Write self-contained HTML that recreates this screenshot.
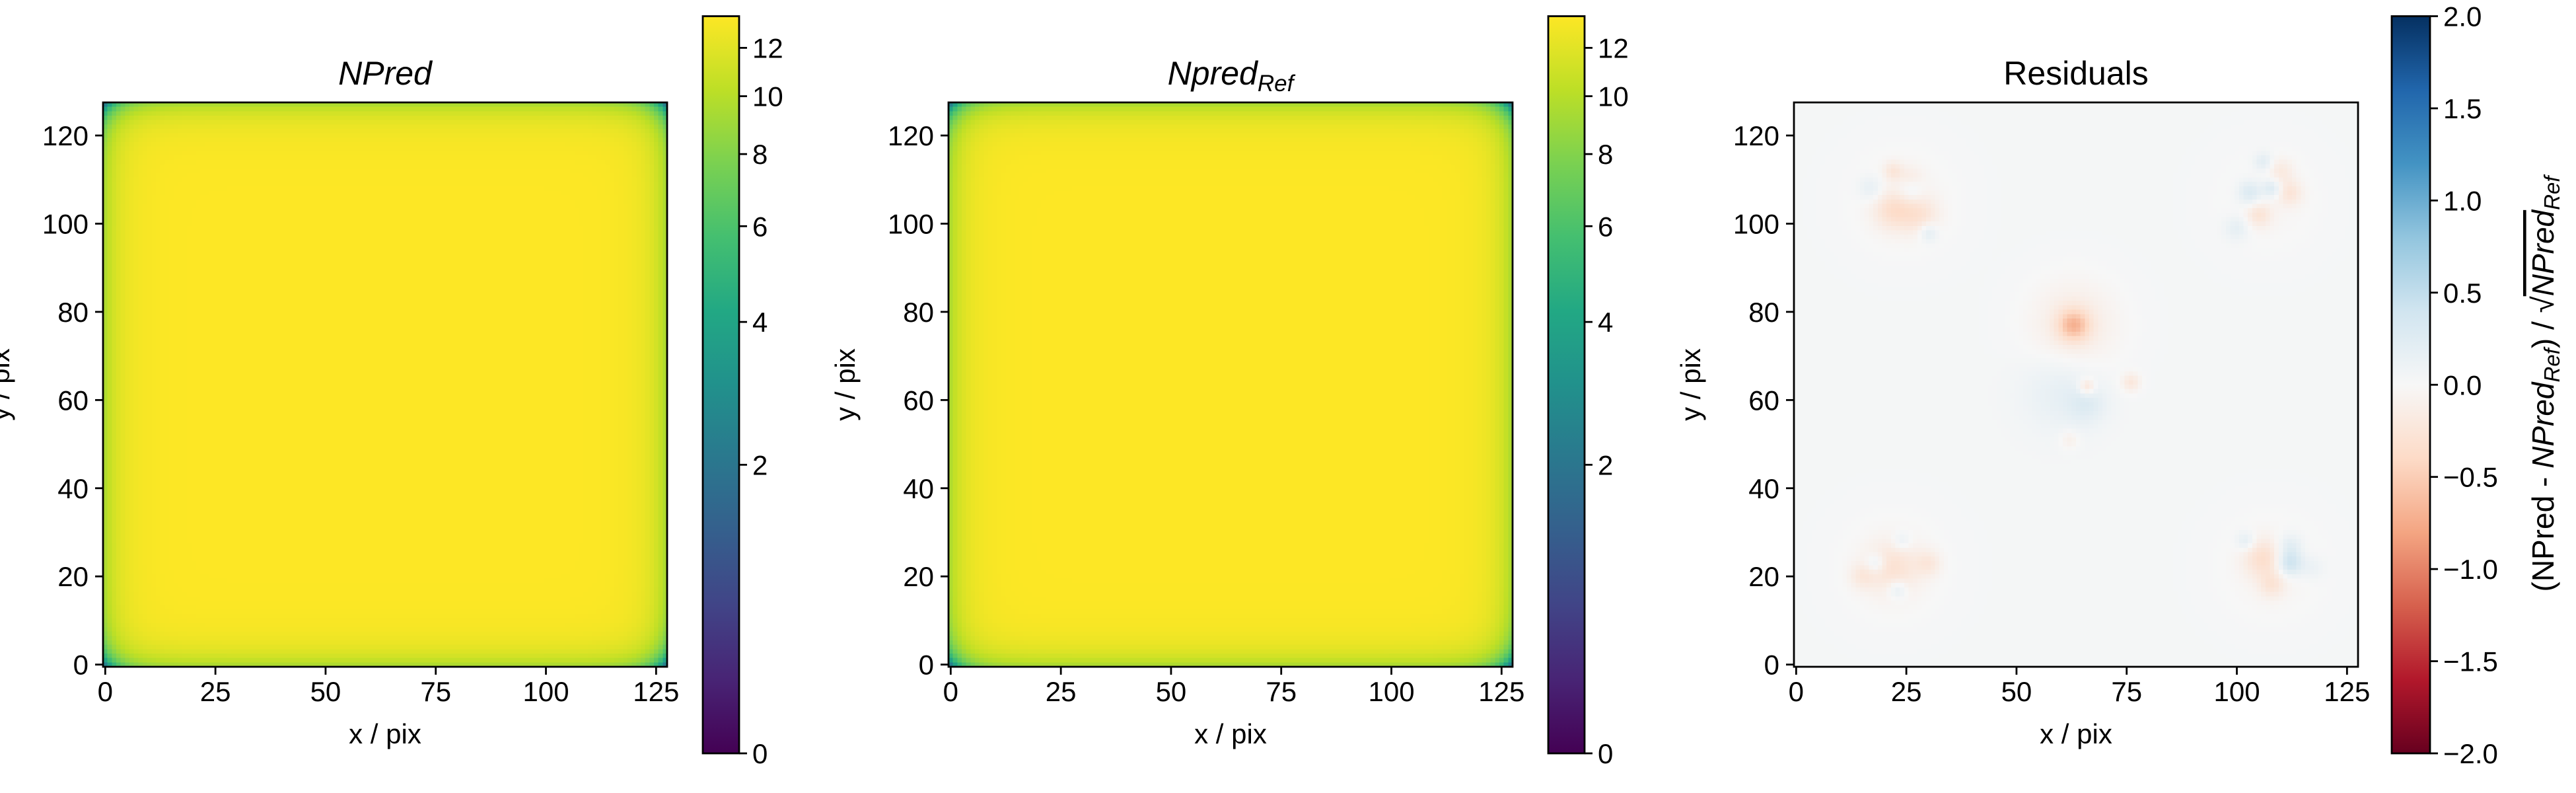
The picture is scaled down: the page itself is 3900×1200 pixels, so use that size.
<!DOCTYPE html>
<html><head><meta charset="utf-8">
<style>
html,body{margin:0;padding:0;background:#fff;}
#wrap{position:relative;width:3900px;height:1200px;overflow:hidden;font-family:"Liberation Sans","DejaVu Sans",sans-serif;}
canvas{position:absolute;image-rendering:pixelated;}
svg{position:absolute;left:0;top:0;}
</style></head>
<body>
<div id="wrap">
<canvas id="c1" width="128" height="128" style="left:156px;top:155px;width:854px;height:854px"></canvas>
<canvas id="c2" width="128" height="128" style="left:1436px;top:155px;width:854px;height:854px"></canvas>
<canvas id="c3" width="128" height="128" style="left:2716px;top:155px;width:854px;height:854px"></canvas>
<svg id="svg" width="3900" height="1200" xmlns="http://www.w3.org/2000/svg">
<defs>
<linearGradient id="viridis" x1="0" y1="1" x2="0" y2="0">
<stop offset="0" stop-color="#440154"/><stop offset="0.1" stop-color="#482475"/><stop offset="0.2" stop-color="#414487"/><stop offset="0.3" stop-color="#355f8d"/><stop offset="0.4" stop-color="#2a788e"/><stop offset="0.5" stop-color="#21918c"/><stop offset="0.6" stop-color="#22a884"/><stop offset="0.7" stop-color="#44bf70"/><stop offset="0.8" stop-color="#7ad151"/><stop offset="0.9" stop-color="#bddf26"/><stop offset="1" stop-color="#fde725"/>
</linearGradient>
<linearGradient id="rdbu" x1="0" y1="1" x2="0" y2="0">
<stop offset="0" stop-color="#67001f"/><stop offset="0.1" stop-color="#b2182b"/><stop offset="0.2" stop-color="#d6604d"/><stop offset="0.3" stop-color="#f4a582"/><stop offset="0.4" stop-color="#fddbc7"/><stop offset="0.5" stop-color="#f7f7f7"/><stop offset="0.6" stop-color="#d1e5f0"/><stop offset="0.7" stop-color="#92c5de"/><stop offset="0.8" stop-color="#4393c3"/><stop offset="0.9" stop-color="#2166ac"/><stop offset="1" stop-color="#053061"/>
</linearGradient>
</defs>
</svg>
</div>
<script>
// ---- data ----
const axisTicks = [0, 25, 50, 75, 100, 125];
const yTicks = [0, 20, 40, 60, 80, 100, 120];
const npredTicks = [0, 2, 4, 6, 8, 10, 12];
const npredMax = 13.5;
const npredPlateau = 13.5;
const resTicks = [-2.0, -1.5, -1.0, -0.5, 0.0, 0.5, 1.0, 1.5, 2.0];
const resTickLabels = ["\u22122.0","\u22121.5","\u22121.0","\u22120.5","0.0","0.5","1.0","1.5","2.0"];
// residual blobs: x, y, sigma, amplitude
const blobX = [63,63,60,66,66,76,62, 22,28,26,30,17,22,26,24, 103,108,105,112,106,100,110,107, 22,18,23,15,30,24,22, 106,112,102,108,112,117,108];
const blobY = [77,77,62,59,63,64,51, 103,102,108,98,108,112,110,105, 107,108,102,107,114,99,112,105, 22,23,17,20,23,28,22, 24,23,28,18,27,22,22];
const blobS = [2.5,7,6,3,1.3,1.5,1.5, 3,3,2,1.5,2,1.5,2,8, 2,1.5,2,2,1.5,2,2,8, 4,1.5,1.5,2,2,1.5,8, 3,2,1.5,2,2,2,8];
const blobA = [-0.55,-0.2,0.15,0.18,-0.35,-0.25,-0.15, -0.3,-0.25,0.22,0.25,0.18,-0.22,-0.18,-0.08, 0.3,0.3,-0.25,-0.25,0.22,0.18,-0.18,-0.06, -0.25,0.25,0.25,-0.18,-0.2,0.18,-0.08, -0.3,0.45,0.22,-0.22,0.22,0.12,-0.08];

// ---- helpers ----
const VIR=[[68,1,84],[72,36,117],[65,68,135],[53,95,141],[42,120,142],[33,145,140],[34,168,132],[68,191,112],[122,209,81],[189,223,38],[253,231,37]];
const RDBU=[[103,0,31],[178,24,43],[214,96,77],[244,165,130],[253,219,199],[247,247,247],[209,229,240],[146,197,222],[67,147,195],[33,102,172],[5,48,97]];
function cmap(t,tab){t=Math.max(0,Math.min(1,t));const f=t*10,i=Math.min(9,Math.floor(f)),r=f-i;return tab[i].map((c,k)=>Math.round(c+(tab[i+1][k]-c)*r));}
function npredNorm(v){return Math.log(1+v/1.2)/Math.log(1+npredMax/1.2);}
function npredVal(i,j){const dx=Math.min(i,127-i),dy=Math.min(j,127-j);
  return npredPlateau-3.8*Math.exp(-dx/3.8)-3.8*Math.exp(-dy/3.8)-3.5*Math.exp(-(dx+dy)/4.5);}
function drawNpred(id){const cv=document.getElementById(id),ctx=cv.getContext('2d'),im=ctx.createImageData(128,128);
  for(let j=0;j<128;j++)for(let i=0;i<128;i++){const c=cmap(npredNorm(npredVal(i,j)),VIR);const p=((127-j)*128+i)*4;im.data[p]=c[0];im.data[p+1]=c[1];im.data[p+2]=c[2];im.data[p+3]=255;}
  ctx.putImageData(im,0,0);}
function drawRes(id){const cv=document.getElementById(id),ctx=cv.getContext('2d'),im=ctx.createImageData(128,128);
  for(let j=0;j<128;j++)for(let i=0;i<128;i++){let v=0.03;for(let k=0;k<blobX.length;k++){const dx=i-blobX[k],dy=j-blobY[k];v+=blobA[k]*Math.exp(-(dx*dx+dy*dy)/(2*blobS[k]*blobS[k]));}
   const c=cmap((v+2)/4,RDBU);const p=((127-j)*128+i)*4;im.data[p]=c[0];im.data[p+1]=c[1];im.data[p+2]=c[2];im.data[p+3]=255;}
  ctx.putImageData(im,0,0);}
drawNpred('c1');drawNpred('c2');drawRes('c3');

const NS="http://www.w3.org/2000/svg",svg=document.getElementById('svg');
function el(tag,attrs,parent){const e=document.createElementNS(NS,tag);for(const k in attrs)e.setAttribute(k,attrs[k]);(parent||svg).appendChild(e);return e;}
const AX=854,TOP=155,S=AX/128;
function drawPanel(left,prefix,titleHtml){
  const g=el('g',{});
  
  
  const sx=v=>left+(v+0.5)*S, sy=v=>TOP+(127.5-v)*S;
  const fr=el('rect',{x:left,y:TOP,width:AX,height:AX,fill:'none',stroke:'#000','stroke-width':2.8},g);
  
  
  axisTicks.forEach(v=>{const x=sx(v);
    el('line',{x1:x,y1:TOP+AX,x2:x,y2:TOP+AX+12,stroke:'#000','stroke-width':2.8},g);
    const t=el('text',{x:x,y:TOP+AX+52,'font-size':42,'text-anchor':'middle'},g);t.textContent=v;
    
    });
  yTicks.forEach(v=>{const y=sy(v);
    el('line',{x1:left,y1:y,x2:left-12,y2:y,stroke:'#000','stroke-width':2.8},g);
    const t=el('text',{x:left-22,y:y+15,'font-size':42,'text-anchor':'end'},g);t.textContent=v;
    
    });
  const xl=el('text',{x:left+AX/2,y:1125,'font-size':42,'text-anchor':'middle'},g);xl.textContent='x / pix';
  
  
  const ylx=left-142;
  const yl=el('text',{x:ylx,y:TOP+AX/2,'font-size':42,'text-anchor':'middle',transform:`rotate(-90 ${ylx} ${TOP+AX/2})`},g);yl.textContent='y / pix';
  
  
  const tt=el('text',{x:left+AX/2,y:128,'font-size':50,'text-anchor':'middle'},g);tt.innerHTML=titleHtml;
  
  
}
drawPanel(156,'npred','<tspan font-style="italic">NPred</tspan>');
drawPanel(1436,'npred-ref','<tspan font-style="italic">Npred</tspan><tspan font-style="italic" font-size="35" dy="10">Ref</tspan>');
drawPanel(2716,'residuals','Residuals');

const CBT=24.5,CBB=1140,CBH=CBB-CBT;
function colorbar(x,w,grad,name,ticks,labels,norm){
  const g=el('g',{});
  
  
  el('rect',{x:x,y:CBT,width:w,height:CBH,fill:`url(#${grad})`,stroke:'#000','stroke-width':2.8},g);
  ticks.forEach((v,i)=>{const y=CBB-norm(v)*CBH;
    el('line',{x1:x+w,y1:y,x2:x+w+12,y2:y,stroke:'#000','stroke-width':2.8},g);
    const t=el('text',{x:x+w+20,y:y+15,'font-size':42},g);t.textContent=labels[i];
    
    });
}
colorbar(1064,55,'viridis','npred-colorbar',npredTicks,npredTicks,npredNorm);
colorbar(2344,55,'viridis','npred-ref-colorbar',npredTicks,npredTicks,npredNorm);
colorbar(3621,58,'rdbu','residuals-colorbar',resTicks,resTickLabels,v=>(v+2)/4);
// residual colorbar label
const lx=3866,ly=581;
const lab=el('text',{x:lx,y:ly,'font-size':46,'text-anchor':'middle',transform:`rotate(-90 ${lx} ${ly})`});


lab.innerHTML='(NPred - <tspan font-style="italic">NPred</tspan><tspan font-style="italic" font-size="33" dy="9">Ref</tspan><tspan dy="-9">) / \u221A</tspan><tspan font-style="italic" text-decoration="overline">NPred</tspan><tspan font-style="italic" font-size="33" dy="9">Ref</tspan>';
</script>
</body></html>
